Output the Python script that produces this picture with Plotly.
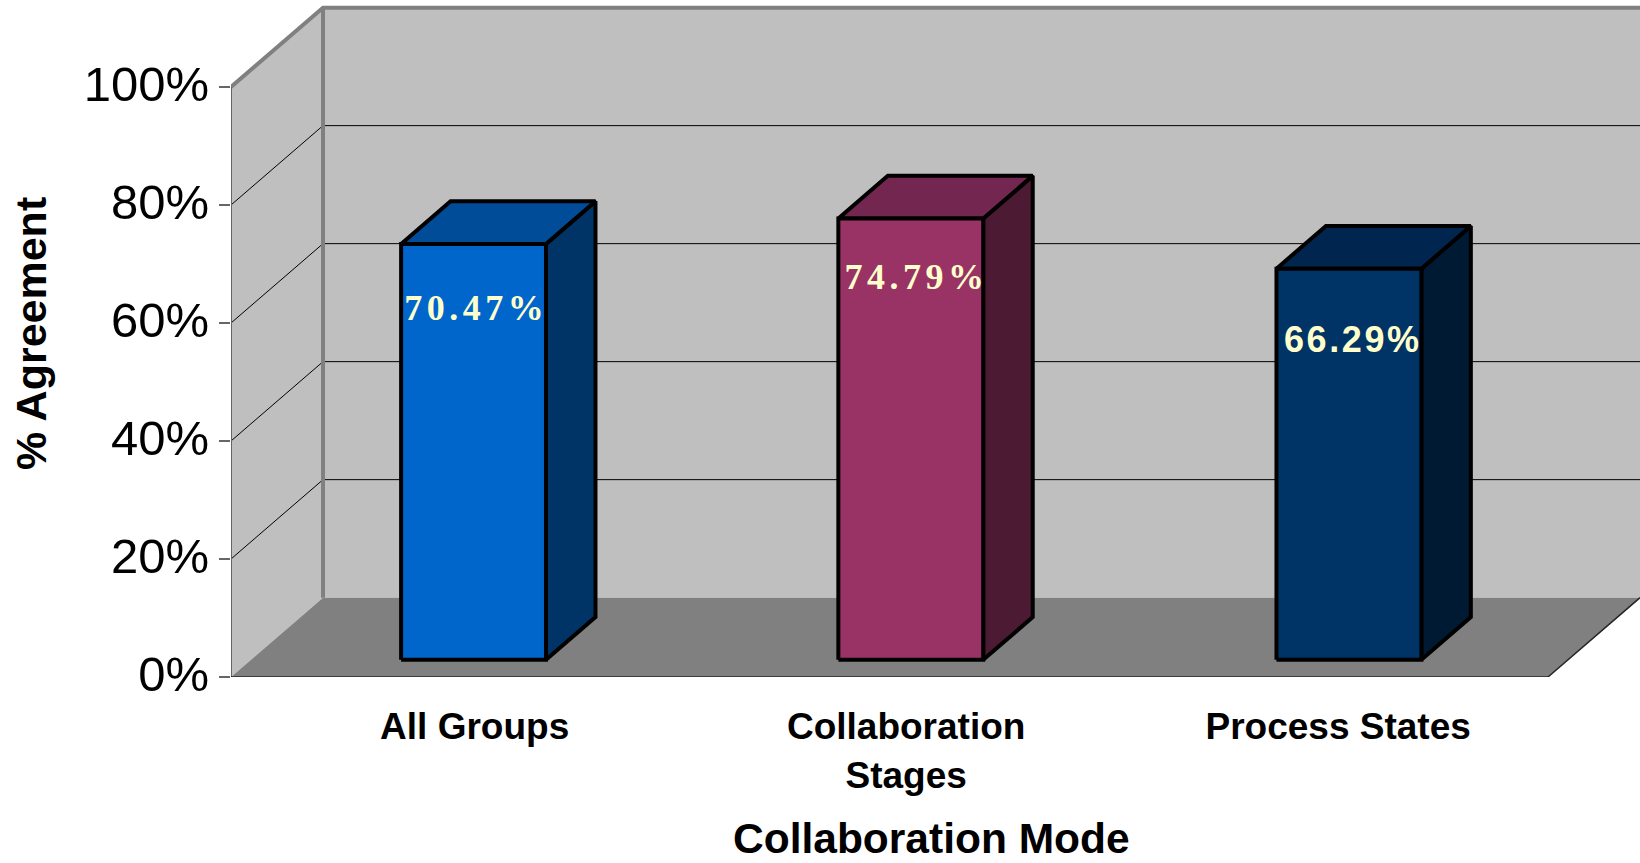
import plotly.graph_objects as go

# ---- data ----
CATEGORIES = ["All Groups", "Collaboration<br>Stages", "Process States"]
VALUES = [70.47, 74.79, 66.29]
VALUE_LABELS = ["70.47%", "74.79%", "66.29%"]
Y_TICKS = [0, 20, 40, 60, 80, 100]
Y_TICK_LABELS = ["0%", "20%", "40%", "60%", "80%", "100%"]
X_POS = [0.007, 1.003, 2.001]
X_LABEL_POS = [0.055, 1.038, 2.022]
GRID_VALUES = [20, 40, 60, 80]

# ---- style ----
FRONT = ["#0066CC", "#993366", "#003366"]
SIDE = ["#003366", "#4C1A33", "#001A33"]
TOP = ["#004C99", "#732650", "#002650"]
LABEL_DROP = [11.4, 10.5, 12.6]
LABEL_FONT = ["Liberation Serif", "Liberation Serif", "Liberation Sans"]
LABEL_SPACING = ["4.5px", "4.5px", "2.6px"]
LABEL_DX = [0.006, 0.013, 0.009]

# oblique projection: depth 0 = front plane, depth 1 = back wall
DX = 0.2096   # x-units per unit of depth
DY = 13.45    # y-units per unit of depth
X0, X1 = -0.5, 2.5
BAR_HALF = 0.165
D_FRONT, D_BACK = 0.217, 0.755
PLOT_W, PLOT_H = 1409, 677


def p(x, v, d):
    return x + d * DX, v + d * DY


def poly(points, fill, line=None, width=0, closed=True):
    pts = [p(*q) for q in points]
    if closed:
        pts.append(pts[0])
    return go.Scatter(
        x=[a for a, _ in pts], y=[b for _, b in pts], mode="lines",
        fill="toself" if fill else None, fillcolor=fill,
        line=dict(color=line or "rgba(0,0,0,0)", width=width),
        hoverinfo="skip", showlegend=False,
    )


def seg(points, color, width):
    return poly(points, None, color, width, closed=False)


fig = go.Figure()

# walls and floor
fig.add_trace(poly([(X0, 0, 0), (X0, 100, 0), (X0, 100, 1), (X0, 0, 1)], "#BFBFBF"))
fig.add_trace(poly([(X0, 0, 1), (X0, 100, 1), (X1 + 1, 100, 1), (X1 + 1, 0, 1)], "#BFBFBF"))
fig.add_trace(poly([(X0, 0, 0), (X1, 0, 0), (X1, 0, 1), (X0, 0, 1)], "#808080"))

# gridlines
for g in GRID_VALUES:
    fig.add_trace(seg([(X0, g, 0), (X0, g, 1), (X1 + 1, g, 1)], "#000000", 1))

# wall edges
fig.add_trace(seg([(X0, 100, 0), (X0, 100, 1), (X1 + 1, 100, 1)], "#808080", 4))
fig.add_trace(seg([(X0, 0, 1), (X0, 100, 1)], "#808080", 4))
fig.add_trace(seg([(X0, 0, 0), (X0, 100, 0)], "#666666", 2))
fig.add_trace(seg([(X0, 0, 0), (X1, 0, 0), (X1, 0, 1)], "#262626", 1.5))

# bars
for i, v in enumerate(VALUES):
    xl, xr = X_POS[i] - BAR_HALF, X_POS[i] + BAR_HALF
    fig.add_trace(poly([(xr, 0, D_FRONT), (xr, 0, D_BACK), (xr, v, D_BACK), (xr, v, D_FRONT)],
                       SIDE[i], "#000000", 4))
    fig.add_trace(poly([(xl, v, D_FRONT), (xl, v, D_BACK), (xr, v, D_BACK), (xr, v, D_FRONT)],
                       TOP[i], "#000000", 4))
    fig.add_trace(poly([(xl, 0, D_FRONT), (xr, 0, D_FRONT), (xr, v, D_FRONT), (xl, v, D_FRONT)],
                       FRONT[i], "#000000", 4))
    lx, ly = p(X_POS[i] + LABEL_DX[i], v - LABEL_DROP[i], D_FRONT)
    fig.add_trace(go.Scatter(
        x=[lx], y=[ly], mode="text",
        text=[f'<span style="letter-spacing:{LABEL_SPACING[i]}">{VALUE_LABELS[i]}</span>'],
        textposition="middle center",
        textfont=dict(family=LABEL_FONT[i], size=36, color="#FFFFCC", weight="bold"),
        hoverinfo="skip", showlegend=False,
    ))

fig.update_layout(
    width=1640, height=863,
    margin=dict(l=231, r=0, t=0, b=186, autoexpand=False),
    paper_bgcolor="#FFFFFF", plot_bgcolor="#FFFFFF",
    showlegend=False,
    xaxis=dict(
        range=[X0, X0 + PLOT_W / 439], showgrid=False, zeroline=False, showline=False,
        tickmode="array", tickvals=X_LABEL_POS, ticktext=CATEGORIES,
        ticks="outside", ticklen=17, tickcolor="rgba(0,0,0,0)",
        tickfont=dict(family="Liberation Sans", size=37, color="#000000", weight="bold"),
    ),
    yaxis=dict(
        range=[0, PLOT_H / 5.9], showgrid=False, zeroline=False, showline=False,
        tickmode="array", tickvals=Y_TICKS, ticktext=Y_TICK_LABELS,
        ticks="outside", ticklen=11, tickwidth=2, tickcolor="#666666",
        tickfont=dict(family="Liberation Sans", size=49, color="#000000"),
        ticklabelstandoff=0, ticklabelshift=-3,
    ),
    annotations=[
        dict(text="Collaboration Mode", xref="paper", yref="paper",
             x=(931 - 231) / PLOT_W, y=(PLOT_H - 838) / PLOT_H,
             xanchor="center", yanchor="middle", showarrow=False,
             font=dict(family="Liberation Sans", size=42.5, color="#000000", weight="bold")),
        dict(text="% Agreement", xref="paper", yref="paper",
             x=(31 - 231) / PLOT_W, y=(PLOT_H - 334) / PLOT_H,
             xanchor="center", yanchor="middle", textangle=-90, showarrow=False,
             font=dict(family="Liberation Sans", size=43, color="#000000", weight="bold")),
    ],
)

fig.write_html("out.html", post_script="document.body.style.margin='0';",
               config={"displayModeBar": False})
